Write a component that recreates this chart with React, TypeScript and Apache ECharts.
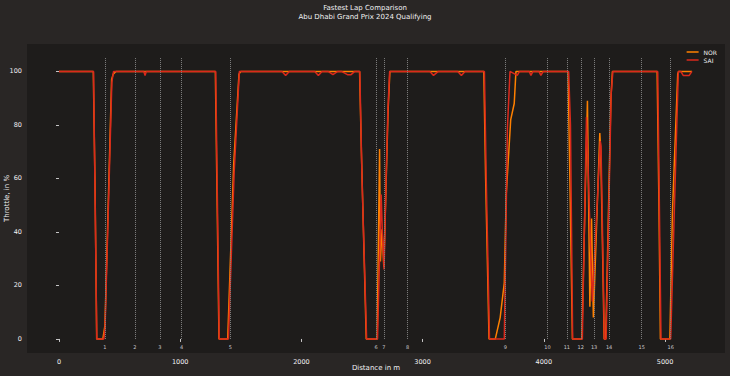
import React, { useEffect, useRef } from "react";
import * as echarts from "echarts";

const norDistance = [0, 283, 298, 311, 362, 379, 434, 447, 470, 1290, 1305, 1320, 1392, 1441, 1485, 1500, 2480, 2495, 2535, 2625, 2645, 2652, 2665, 2680, 2700, 2715, 2730, 3505, 3520, 3548, 3600, 3640, 3674, 3690, 3727, 3756, 3770, 4200, 4215, 4236, 4314, 4360, 4380, 4394, 4409, 4462, 4470, 4498, 4511, 4553, 4566, 4935, 4950, 4962, 5040, 5061, 5105, 5112, 5223];
const norThrottle = [100, 100, 55, 0, 0, 5, 97, 99, 100, 100, 50, 0, 0, 65, 99, 100, 100, 70, 0, 0, 71, 29, 41, 27, 60, 85, 100, 100, 60, 0, 0, 8, 21, 54, 82, 88, 100, 100, 60, 0, 0, 89, 12, 45, 8, 77, 70, 0, 0, 89, 100, 100, 50, 0, 0, 47, 99, 100, 100];

const saiDistance = [0, 285, 312, 370, 380, 436, 450, 700, 710, 720, 1293, 1322, 1398, 1445, 1488, 1840, 1870, 1900, 2110, 2140, 2170, 2220, 2260, 2300, 2330, 2380, 2410, 2440, 2470, 2482, 2500, 2538, 2628, 2658, 2668, 2682, 2700, 2713, 2728, 3060, 3090, 3130, 3290, 3320, 3350, 3510, 3525, 3552, 3674, 3700, 3721, 3781, 3800, 3880, 3894, 3910, 3960, 3976, 3995, 4205, 4220, 4238, 4318, 4352, 4400, 4466, 4472, 4500, 4514, 4556, 4570, 4940, 4967, 5047, 5075, 5110, 5130, 5150, 5200, 5222];
const saiThrottle = [100, 100, 0, 0, 4, 96, 100, 100, 98.5, 100, 100, 0, 0, 62, 100, 100, 98.5, 100, 100, 98.5, 100, 100, 98.8, 100, 100, 98.8, 98.8, 100, 100, 100, 60, 0, 0, 54, 40, 26, 62, 85, 100, 100, 98.5, 100, 100, 98.5, 100, 100, 60, 0, 0, 79, 100, 98.5, 100, 100, 98.5, 100, 100, 98.5, 100, 100, 80, 0, 0, 83, 14, 74, 72, 0, 0, 92, 100, 100, 0, 0, 45, 100, 100, 98.5, 98.5, 100];

const cornerDistances = [379, 626, 832, 1011, 1414, 2617, 2680, 2877, 3682, 4030, 4190, 4305, 4415, 4539, 4808, 5047];
const cornerNumbers = ["1", "2", "3", "4", "5", "6", "7", "8", "9", "10", "11", "12", "13", "14", "15", "16"];

const xTicks = [0, 1000, 2000, 3000, 4000, 5000];
const yTicks = [0, 20, 40, 60, 80, 100];

const drivers = ["NOR", "SAI"];
const driverColors = ["#ff8000", "#da291c"];

export default function App() {
  const ref = useRef<HTMLDivElement>(null);
  useEffect(() => {
    if (!ref.current) return;
    const chart = echarts.init(ref.current, null, { renderer: "svg" });
    const textColor = "#f1f1f3";
    const font = "DejaVu Sans";
    const norData = norDistance.map((d, i) => [d, norThrottle[i]]);
    const saiData = saiDistance.map((d, i) => [d, saiThrottle[i]]);
    chart.setOption({
      animation: false,
      backgroundColor: "#292625",
      textStyle: { fontFamily: font },
      title: {
        text: "Fastest Lap Comparison\nAbu Dhabi Grand Prix 2024 Qualifying",
        left: "center",
        top: 3,
        padding: 0,
        textStyle: { color: textColor, fontSize: 7, fontWeight: "normal", lineHeight: 9, fontFamily: font },
      },
      legend: {
        data: drivers,
        orient: "vertical",
        right: 13,
        top: 49,
        padding: 0,
        icon: "rect",
        itemWidth: 12,
        itemHeight: 1.5,
        itemGap: 2,
        textStyle: { color: textColor, fontSize: 6, lineHeight: 6, fontFamily: font },
      },
      grid: {
        left: 27,
        right: 5,
        top: 44,
        bottom: 23,
        containLabel: false,
        outerBoundsMode: "none",
        show: true,
        backgroundColor: "#1e1c1b",
        borderWidth: 0,
      },
      xAxis: {
        type: "value",
        min: -264,
        max: 5495,
        name: "Distance in m",
        nameLocation: "middle",
        nameGap: 11,
        nameMoveOverlap: false,
        nameTextStyle: { color: textColor, fontSize: 7, fontFamily: font },
        axisLine: { show: false },
        splitLine: { show: false },
        axisTick: { show: true, length: 3, customValues: xTicks, lineStyle: { color: textColor, width: 0.8 } },
        axisLabel: {
          customValues: xTicks,
          color: textColor,
          fontSize: 6.5,
          margin: 5,
          fontFamily: font,
          formatter: (v: number) => String(v),
        },
      },
      yAxis: {
        type: "value",
        min: -5.25,
        max: 110.25,
        name: "Throttle, in %",
        nameLocation: "middle",
        nameGap: 17,
        nameMoveOverlap: false,
        nameTextStyle: { color: textColor, fontSize: 7, fontFamily: font },
        axisLine: { show: false },
        splitLine: { show: false },
        axisTick: { show: true, length: 3, customValues: yTicks, lineStyle: { color: textColor, width: 0.8 } },
        axisLabel: {
          customValues: yTicks,
          color: textColor,
          fontSize: 6.5,
          margin: 5,
          fontFamily: font,
          formatter: (v: number) => String(v),
        },
      },
      series: [
        {
          name: "corners",
          type: "line",
          data: [],
          silent: true,
          markLine: {
            silent: true,
            symbol: ["none", "none"],
            label: { show: false },
            lineStyle: { type: "dotted", color: "#808080", width: 1 },
            data: cornerDistances.map((d) => [{ coord: [d, 0] }, { coord: [d, 105] }]),
          },
        },
        {
          name: "cornerLabels",
          type: "scatter",
          silent: true,
          symbolSize: 0,
          data: cornerDistances.map((d, i) => ({ value: [d, -3], name: cornerNumbers[i] })),
          label: {
            show: true,
            position: "inside",
            formatter: "{b}",
            color: textColor,
            fontSize: 5,
            fontFamily: font,
          },
        },
        {
          name: drivers[0],
          type: "line",
          data: norData,
          showSymbol: false,
          symbol: "none",
          color: driverColors[0],
          lineStyle: { width: 1.5, color: driverColors[0] },
        },
        {
          name: drivers[1],
          type: "line",
          data: saiData,
          showSymbol: false,
          symbol: "none",
          color: driverColors[1],
          lineStyle: { width: 1.5, color: driverColors[1] },
        },
      ],
    });
    return () => chart.dispose();
  }, []);
  return (
    <div
      ref={ref}
      style={{ position: "fixed", left: 0, top: 0, width: 730, height: 376 }}
    />
  );
}
